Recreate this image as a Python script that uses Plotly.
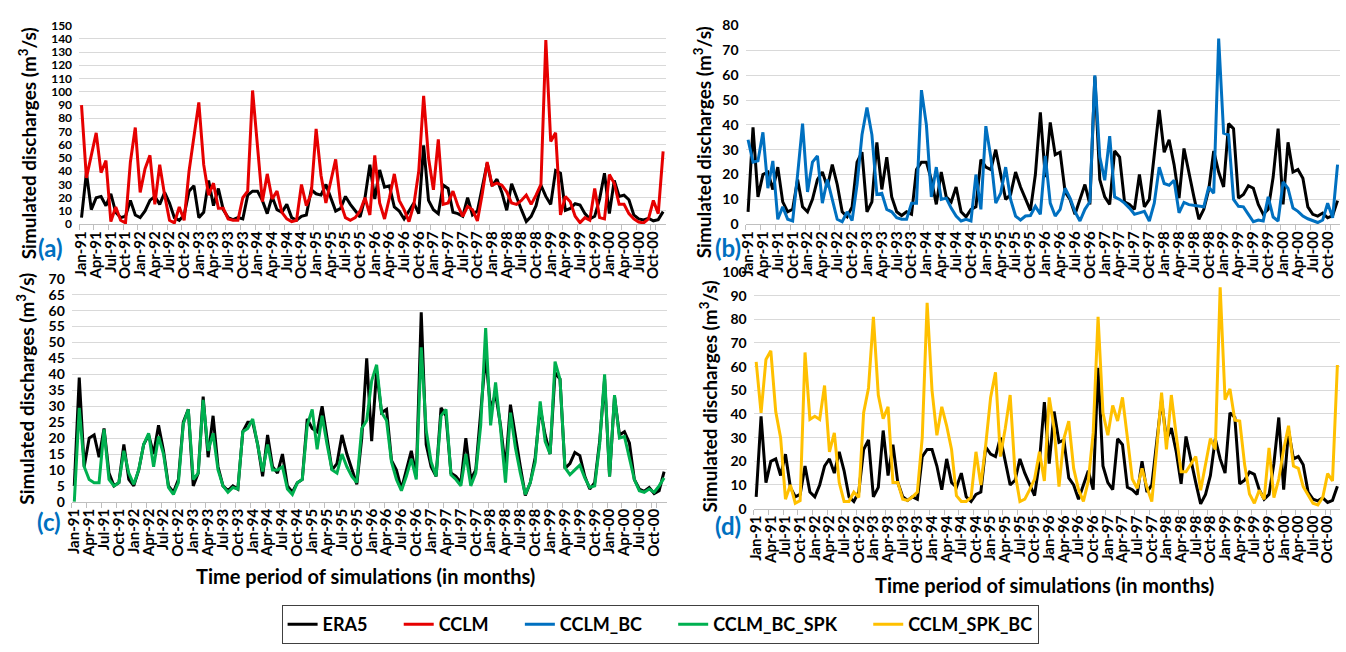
import plotly.graph_objects as go

# ---------------- data ----------------
MONTH_NAMES = ["Jan", "Feb", "Mar", "Apr", "May", "Jun", "Jul", "Aug", "Sep", "Oct", "Nov", "Dec"]
YEARS = ["91", "92", "93", "94", "95", "96", "97", "98", "99", "00"]
months = [f"{m}-{y}" for y in YEARS for m in MONTH_NAMES]
tick_labels = months[::3]

era5 = [5, 39, 11, 20, 21, 14, 23, 9, 5, 6,
        18, 7, 5, 10, 18, 21, 15, 24, 16, 5,
        3, 7, 25, 29, 5, 9, 33, 14, 27, 11,
        5, 3.5, 5, 4, 22, 25, 25, 18, 8, 21,
        11, 9, 15, 5, 3, 6, 7, 26, 23, 22,
        30, 20, 10, 12, 21, 15, 10, 5.5, 20, 45,
        19, 41, 28, 29, 13, 10, 4, 10, 16, 8,
        59.5, 18, 11, 8, 29.5, 27, 9, 8, 6, 20,
        7, 10, 27, 46, 29, 34, 24, 10.5, 30.5, 20,
        11, 2, 6, 14, 29.5, 21, 15, 40.5, 38.5, 10.5,
        12, 15.5, 14.5, 8, 4, 6, 19, 38.5, 8, 33,
        21, 22, 18.5, 7, 4, 3.3, 4.5, 2.6, 3.5, 9.5]

cclm = [90, 35, 52, 69, 39, 48, 2, 13, 3, 1,
        47, 73, 24, 42, 52, 15, 45, 22, 3, 1,
        13, 3, 40, 65, 92, 45, 22, 31, 12, 12,
        4, 3, 3, 20, 25, 101, 60, 17, 38, 19,
        25, 9, 4, 2, 3, 30, 14, 23, 72, 37,
        16, 32, 49, 16, 5, 3, 5, 10, 20, 7,
        52, 16, 4, 20, 38, 18, 11, 2, 15, 40,
        97, 50, 26, 64, 15, 16, 25, 14, 6, 13.5,
        11, 2.5, 23, 47, 29.5, 31, 29.5, 24.5, 16, 15,
        18, 22, 15, 22, 30, 139, 62.5, 69, 7, 21,
        17, 6, 1.2, 5, 3, 27, 5, 4, 37.5, 31,
        15, 15, 8, 4, 1.7, 1, 4, 18, 8, 55]

cclm_bc = [34, 25, 25.5, 37, 14.5, 25.5, 2, 7, 2, 1.3,
           20, 40.5, 13, 25, 27.5, 8.5, 18, 10, 2, 1,
           5, 1.5, 16, 36, 47, 36, 12, 12.5, 6, 5,
           2.6, 2, 2, 8.5, 8.5, 54, 40, 11, 23, 10,
           10.5, 6.5, 3.3, 1.3, 2, 1.3, 20, 6, 39.5, 27,
           8.5, 12.5, 23, 10, 3.3, 1.7, 3.3, 3.5, 7.2, 4,
           27.5, 8.5, 3.3, 6, 14.5, 10.5, 5, 1.3, 6, 9,
           60, 27, 17.7, 35.5, 11, 10, 8.5, 6.5, 4, 4.6,
           5.2, 1.3, 8.5, 23, 16.4, 15.7, 17.7, 4.6, 8.8, 7.9,
           7.5, 7.2, 7, 15, 12.5, 74.8, 36.7, 36, 10, 7.2,
           7, 4, 1, 1.7, 1.3, 11, 2.9, 1.3, 17, 14.4,
           6.5, 5.2, 3.3, 2.2, 1.3, 0.7, 1.7, 8.5, 2.6, 24]

cclm_bc_spk = [0, 29.5, 11, 7, 6, 6, 22.7, 7, 5, 6,
               16, 9, 5.5, 10, 18, 21.5, 11, 20.5, 15, 4.5,
               2.3, 6, 24.5, 29, 7, 9, 32, 16, 21.5, 10,
               5, 3, 4.5, 4, 22, 23, 26, 18, 9.5, 18,
               10, 10, 11, 4, 2.3, 6, 7, 24, 29, 16.5,
               27, 18, 10, 9, 15, 11, 8, 6, 23, 25.5,
               38, 43, 28, 25.5, 12.5, 7, 3.5, 8, 13.5, 7,
               48.5, 22.5, 12.5, 8, 27, 29, 8.5, 7, 5, 15,
               5, 9, 24, 54.5, 24, 37.5, 23, 6, 28, 17,
               9, 2.3, 6, 12.5, 31.5, 19, 15, 44, 38.5, 10.7,
               8.5, 10, 11.5, 7.5, 4.5, 5, 18, 40, 8, 33.5,
               20, 20.5, 14, 7, 3.5, 3, 4, 3, 5, 7.5]

cclm_spk_bc = [62, 40.5, 63, 66.7, 41, 30, 4, 10, 2.3, 3.4,
               66, 37.7, 39, 37.7, 52, 24, 32, 11, 3, 3,
               7, 4.7, 40.5, 51, 81, 48, 38, 43, 11, 11,
               4, 3.5, 5, 7, 30, 87, 50, 31, 43, 35,
               25, 5.5, 3, 3, 4.7, 24, 10, 27, 47, 57.6,
               22, 34, 48, 15, 3, 4, 8, 12.5, 24, 11.7,
               47, 34, 9.3, 29.6, 37, 17, 8, 3, 11.7, 32,
               81, 40.5, 31, 43.6, 37, 47, 30, 12.5, 8.6, 17,
               9, 3, 25, 49, 25, 48, 31, 15.6, 15.6, 18.7,
               22, 7.8, 18.7, 29.6, 25, 93.5, 46, 50.6, 37.4, 37,
               18.7, 6.2, 2.3, 7.8, 3.9, 25.7, 4.7, 12.5, 25, 35,
               18, 17, 9.3, 5.5, 2.3, 1.6, 4.7, 14.8, 11.7, 60.7]

panel_models = [("CCLM", cclm, "#E60000"),
                ("CCLM_BC", cclm_bc, "#0070C0"),
                ("CCLM_BC_SPK", cclm_bc_spk, "#00B050"),
                ("CCLM_SPK_BC", cclm_spk_bc, "#FFC000")]
panel_letters = ["(a)", "(b)", "(c)", "(d)"]
y_ranges = [(150, 10), (80, 10), (70, 5), (100, 10)]

# ---------------- layout geometry (pixels) ----------------
W, H = 1346, 652
# (left, right, top, bottom) of each plot area
boxes = [(71.5, 661.5, 17.0, 221.0),
         (742.0, 1340.0, 17.0, 221.0),
         (64.2, 662.5, 277.0, 506.0),
         (750.2, 1339.8, 270.0, 513.0)]
ytick_sizes = [12, 14, 14, 14]
ytitle_pos = [(20, 138), (699, 137), (18, 390), (705, 398)]
letter_pos = [(43, 245), (724, 245), (41, 526), (724, 530)]
xtitle_pos = [(360, 582), (1043, 591)]

FONT = "Lato, Open Sans, sans-serif"
PAD = "\u00a0" * 6   # extra spacing between legend entries


def legend_label(name, last=False):
    return name if last else name + PAD


fig = go.Figure()
layout_axes = {}
annotations = []

for i, (name, vals, color) in enumerate(panel_models):
    xa = "x" if i == 0 else f"x{i+1}"
    ya = "y" if i == 0 else f"y{i+1}"
    fig.add_trace(go.Scatter(x=months, y=era5, mode="lines", name=legend_label("ERA5"),
                             line=dict(color="#000000", width=3),
                             xaxis=xa, yaxis=ya, showlegend=(i == 0)))
    fig.add_trace(go.Scatter(x=months, y=vals, mode="lines",
                             name=legend_label(name, last=(i == 3)),
                             line=dict(color=color, width=3),
                             xaxis=xa, yaxis=ya, showlegend=True))
    l, r, t, b = boxes[i]
    ymax, dt = y_ranges[i]
    key = "" if i == 0 else str(i + 1)
    layout_axes[f"xaxis{key}"] = dict(
        domain=[l / W, r / W], anchor=ya, type="category",
        categoryorder="array", categoryarray=months,
        range=[-0.5, 119.5],
        tickmode="array", tickvals=tick_labels, ticktext=tick_labels,
        tickson="boundaries", ticks="outside", ticklen=5, tickcolor="#BFBFBF",
        tickangle=-90, showgrid=False, showline=True, linecolor="#BFBFBF",
        linewidth=1, zeroline=False,
        tickfont=dict(family=FONT, size=15, color="#000000", weight="bold"))
    layout_axes[f"yaxis{key}"] = dict(
        domain=[1 - b / H, 1 - t / H], anchor=xa, range=[0, ymax],
        tickmode="linear", tick0=0, dtick=dt, showgrid=True,
        gridcolor="#D9D9D9", gridwidth=1, zeroline=False, showline=False,
        ticks="", ticklabelstandoff=6,
        tickfont=dict(family=FONT, size=ytick_sizes[i], color="#000000", weight="bold"))
    # y-axis title
    px, py = ytitle_pos[i]
    annotations.append(dict(
        text="<b>Simulated discharges (m<sup>3</sup>/s)</b>", textangle=-90,
        xref="paper", yref="paper", x=px / W, y=1 - py / H,
        xanchor="center", yanchor="middle",
        showarrow=False, font=dict(family=FONT, size=19, color="#000000")))

# panel letters
for txt, (px, py) in zip(panel_letters, letter_pos):
    annotations.append(dict(text=f"<b>{txt}</b>", xref="paper", yref="paper",
                            x=px / W, y=1 - py / H, xanchor="center", yanchor="middle",
                            showarrow=False,
                            font=dict(family=FONT, size=24, color="#0070C0")))

# x-axis titles (bottom panels)
for px, py in xtitle_pos:
    annotations.append(dict(text="<b>Time period of simulations (in months)</b>",
                            xref="paper", yref="paper", x=px / W,
                            y=1 - py / H, xanchor="center", yanchor="middle",
                            showarrow=False,
                            font=dict(family=FONT, size=20, color="#000000")))

fig.update_layout(
    width=W, height=H, margin=dict(l=0, r=0, t=0, b=0),
    paper_bgcolor="white", plot_bgcolor="white",
    annotations=annotations,
    legend=dict(orientation="h", x=656 / W, y=1 - 632 / H, xanchor="center",
                yanchor="middle", bordercolor="#404040", borderwidth=1,
                font=dict(family=FONT, size=18, color="#000000", weight="bold"),
                itemwidth=30, traceorder="normal"),
    **layout_axes)

fig.write_html("out.html")
